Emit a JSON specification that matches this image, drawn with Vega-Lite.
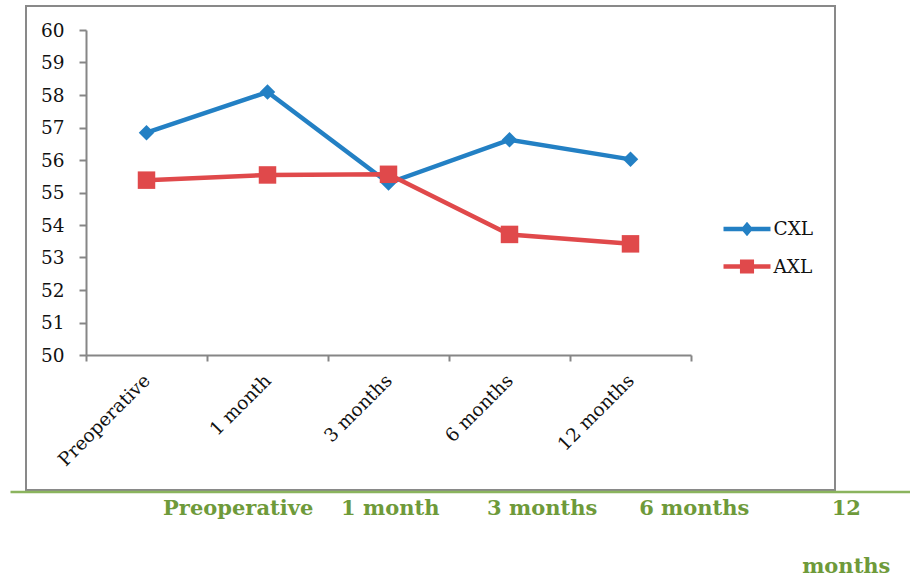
{
  "$schema": "https://vega.github.io/schema/vega-lite/v6.json",
  "width": 809,
  "height": 484,
  "autosize": {"type": "none"},
  "padding": {"left": 26, "top": 6, "right": 75, "bottom": 89},
  "background": "white",
  "config": {
    "view": {"stroke": "#898989", "strokeWidth": 2},
    "font": "DejaVu Serif"
  },
  "data": {
    "values": [
      {"time": "Preoperative", "series": "CXL", "value": 56.84},
      {"time": "1 month", "series": "CXL", "value": 58.09},
      {"time": "3 months", "series": "CXL", "value": 55.29},
      {"time": "6 months", "series": "CXL", "value": 56.62},
      {"time": "12 months", "series": "CXL", "value": 56.02},
      {"time": "Preoperative", "series": "AXL", "value": 55.38},
      {"time": "1 month", "series": "AXL", "value": 55.54},
      {"time": "3 months", "series": "AXL", "value": 55.56},
      {"time": "6 months", "series": "AXL", "value": 53.71},
      {"time": "12 months", "series": "AXL", "value": 53.42}
    ]
  },
  "layer": [
    {
      "encoding": {
        "x": {
          "field": "time",
          "type": "ordinal",
          "sort": ["Preoperative", "1 month", "3 months", "6 months", "12 months"],
          "scale": {"type": "band", "range": [60, 665], "paddingInner": 0, "paddingOuter": 0},
          "axis": {
            "title": null,
            "orient": "bottom",
            "offset": -135,
            "domainColor": "#868686",
            "domainWidth": 2,
            "tickColor": "#868686",
            "tickWidth": 2,
            "tickSize": 6,
            "tickBand": "extent",
            "labelAngle": -45,
            "labelAlign": "right",
            "labelBaseline": "middle",
            "labelPadding": 16,
            "labelFont": "DejaVu Serif",
            "labelFontSize": 18.5,
            "labelColor": "#111111",
            "grid": false
          }
        },
        "y": {
          "field": "value",
          "type": "quantitative",
          "scale": {"domain": [50, 60], "range": [349, 24], "zero": false, "nice": false},
          "axis": {
            "title": null,
            "orient": "left",
            "offset": -60,
            "values": [50, 51, 52, 53, 54, 55, 56, 57, 58, 59, 60],
            "domainColor": "#868686",
            "domainWidth": 2,
            "tickColor": "#868686",
            "tickWidth": 2,
            "tickSize": 7,
            "labelPadding": 15,
            "labelFont": "DejaVu Serif",
            "labelFontSize": 18.5,
            "labelColor": "#111111",
            "grid": false
          }
        },
        "color": {
          "field": "series",
          "type": "nominal",
          "scale": {"domain": ["CXL", "AXL"], "range": ["#2380C4", "#E0494B"]},
          "legend": {
            "title": null,
            "orient": "none",
            "legendX": 709,
            "legendY": 211,
            "padding": 0,
            "symbolSize": 552,
            "rowPadding": 15.5,
            "labelOffset": 14.5,
            "labelFont": "DejaVu Serif",
            "labelFontSize": 18.5,
            "labelColor": "#111111",
            "encode": {
              "symbols": {
                "update": {
                  "shape": {"signal": "datum.value === 'CXL' ? 'M-2,-0.2H2V0.2H-2Z M0,-0.62L0.52,0L0,0.62L-0.52,0Z' : 'M-2,-0.2H2V0.2H-2Z M-0.6,-0.6H0.6V0.6H-0.6Z'"},
                  "fill": {"scale": "color", "field": "value"},
                  "stroke": {"value": "transparent"},
                  "strokeWidth": {"value": 0},
                  "opacity": {"value": 1}
                }
              }
            }
          }
        }
      },
      "layer": [
        {"mark": {"type": "line", "strokeWidth": 4.5}},
        {
          "mark": {"type": "point", "filled": true, "opacity": 1},
          "encoding": {
            "shape": {"condition": {"test": "datum.series === 'CXL'", "value": "diamond"}, "value": "square"},
            "size": {"condition": {"test": "datum.series === 'CXL'", "value": 240}, "value": 306}
          }
        }
      ]
    },
    {
      "mark": {"type": "point", "opacity": 0},
      "encoding": {
        "x": {
          "field": "time",
          "type": "ordinal",
          "sort": ["Preoperative", "1 month", "3 months", "6 months", "12 months"],
          "scale": {"type": "point", "range": [-16, 884], "padding": 0.96, "align": 0.78},
          "axis": {
            "title": null,
            "orient": "bottom",
            "offset": 1.5,
            "domainColor": "#8BB45E",
            "domainWidth": 2.5,
            "ticks": false,
            "grid": false,
            "labelAngle": 0,
            "labelAlign": "center",
            "labelBaseline": "top",
            "labelPadding": 6,
            "labelFont": "DejaVu Serif",
            "labelFontWeight": "bold",
            "labelFontSize": 21,
            "labelColor": "#6E9A3A",
            "labelLineHeight": 58,
            "labelOverlap": false,
            "labelExpr": "datum.label === '12 months' ? ['12', 'months'] : datum.label"
          }
        }
      }
    }
  ],
  "resolve": {"scale": {"x": "independent"}}
}
